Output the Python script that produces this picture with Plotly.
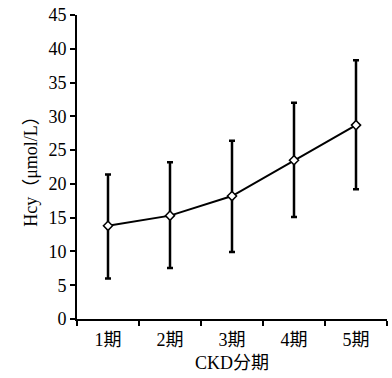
import plotly.graph_objects as go

categories = ["1期", "2期", "3期", "4期", "5期"]
means = [13.8, 15.3, 18.2, 23.5, 28.7]
upper = [21.4, 23.2, 26.4, 32.0, 38.3]
lower = [6.0, 7.55, 9.9, 15.1, 19.2]
y_ticks = [0, 5, 10, 15, 20, 25, 30, 35, 40, 45]

err_plus = [u - m for u, m in zip(upper, means)]
err_minus = [m - l for m, l in zip(means, lower)]

font_family = "Liberation Serif, Times New Roman, Noto Sans CJK SC, serif"

fig = go.Figure()
fig.add_trace(go.Scatter(
    x=categories, y=means,
    mode="lines+markers",
    line=dict(color="black", width=2),
    marker=dict(symbol="diamond", size=7, color="white", line=dict(color="black", width=1.5)),
    error_y=dict(type="data", symmetric=False, array=err_plus, arrayminus=err_minus,
                 color="black", thickness=2.5, width=3),
    showlegend=False,
))

fig.update_layout(
    width=392, height=378,
    margin=dict(l=77, r=5, t=15, b=59),
    plot_bgcolor="white", paper_bgcolor="white",
    font=dict(family=font_family, size=18, color="black"),
)
fig.update_xaxes(
    type="category", range=[-0.5, 4.5], automargin=False,
    showline=True, linecolor="black", linewidth=2,
    ticks="outside", tickson="boundaries", ticklen=5, tickwidth=2, tickcolor="black",
    showgrid=False, zeroline=False,
    ticklabelstandoff=3,
    title=dict(text="CKD分期", font=dict(size=18), standoff=8),
    tickfont=dict(size=18),
)
fig.update_yaxes(
    range=[0, 45], tickvals=y_ticks, automargin=False,
    showline=True, linecolor="black", linewidth=2,
    ticks="outside", ticklen=5, tickwidth=2, tickcolor="black",
    showgrid=False, zeroline=False,
    title=dict(text="Hcy（μmol/L）", font=dict(size=18), standoff=6),
    tickfont=dict(size=18),
)

fig.write_html("out.html", config={"displayModeBar": False},
               post_script="document.body.style.margin='0';")
